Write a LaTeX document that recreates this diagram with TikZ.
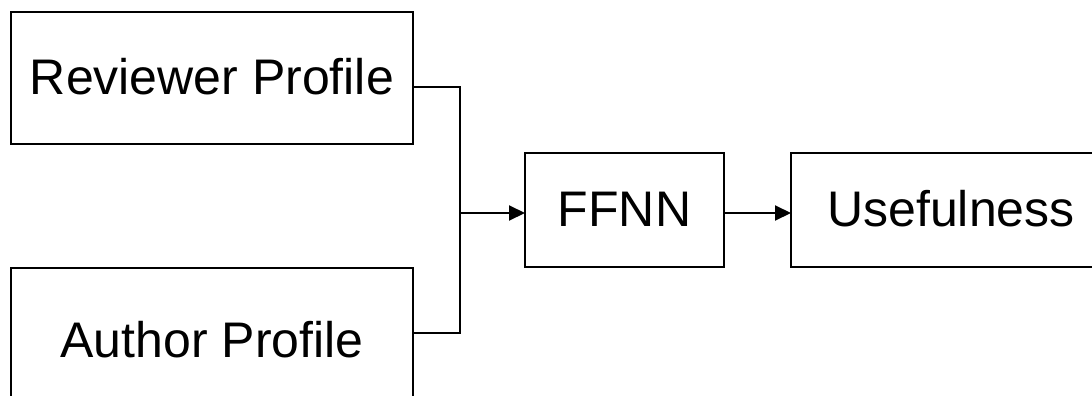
\documentclass[tikz,border=0pt]{standalone}
\usepackage{fontspec}
\setmainfont{Liberation Sans}
\usetikzlibrary{arrows.meta}
\tikzset{
  block/.style={draw=black, line width=2pt, inner sep=0pt, outer sep=0pt,
    font=\fontsize{50}{60}\selectfont, text height=32pt, text depth=0pt,
    align=center},
  link/.style={draw=black, line width=2pt},
  flow/.style={link, -{Triangle[length=16pt,width=15pt]}}
}
\begin{document}
\begin{tikzpicture}[x=1pt, y=-1pt]
  \useasboundingbox (0,0) rectangle (1092,396);
  \clip (0,0) rectangle (1092,396);

  % input profiles
  \node[block, minimum width=402pt, minimum height=132pt] (rev) at (212,78) {Reviewer Profile};
  \node[block, minimum width=402pt, minimum height=146pt] (aut) at (212,341) {Author Profile};

  % network and output
  \node[block, minimum width=199pt, minimum height=114pt] (ffnn) at (624.5,210) {FFNN};
  \node[block, minimum width=320pt, minimum height=114pt] (use) at (951,210) {Usefulness};

  % merge point of the two inputs
  \coordinate (j) at (460,213);

  \draw[link] ([yshift=-9pt]rev.east) -| (j);
  \draw[link] ([yshift=8pt]aut.east) -| (j);
  \draw[flow] (j) -- (j -| ffnn.west);
  \draw[flow] (j -| ffnn.east) -- (j -| use.west);
\end{tikzpicture}
\end{document}
